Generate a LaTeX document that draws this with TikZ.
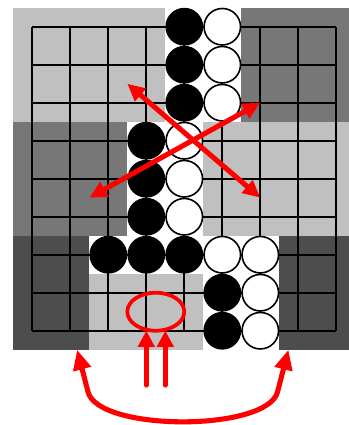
\documentclass[tikz,border=0pt]{standalone}
\usetikzlibrary{arrows.meta,calc}
\definecolor{zonelight}{HTML}{C0C0C0}
\definecolor{zonemid}{HTML}{777777}
\definecolor{zonedark}{HTML}{4D4D4D}

\begin{document}
\begin{tikzpicture}[
  blackstone/.style={circle, fill=black, draw=black, line width=1pt,
                     minimum size=0.96cm, inner sep=0pt},
  whitestone/.style={circle, fill=white, draw=black, line width=1.2pt,
                     minimum size=0.96cm, inner sep=0pt},
  gridline/.style={line width=1.3pt, black},
  redarrow/.style={draw=red, line width=3.8pt, line cap=round,
                   -{Triangle[length=12pt,width=12pt]}},
  redboth/.style={draw=red, line width=3.8pt,
                  {Triangle[length=13pt,width=12pt]}-{Triangle[length=13pt,width=12pt]}},
  redhook/.style={draw=red, line width=3.8pt,
                  {Triangle[length=15pt,width=13pt]}-{Triangle[length=15pt,width=13pt]}}
]
% page frame
\useasboundingbox (-0.85,-10.481) rectangle (8.308,0.703);
\fill[white] (-0.85,-10.481) rectangle (8.308,0.703);

% zones round the groups
\fill[zonelight] (-0.5,0.5)  rectangle (3.5,-2.5);
\fill[zonemid]   (5.5,0.5)   rectangle (8.5,-2.5);
\fill[zonemid]   (-0.5,-2.5) rectangle (2.5,-5.5);
\fill[zonelight] (4.5,-2.5)  rectangle (8.5,-5.5);
\fill[zonedark]  (-0.5,-5.5) rectangle (1.5,-8.5);
\fill[zonelight] (1.5,-6.5)  rectangle (4.5,-8.5);
\fill[zonedark]  (6.5,-5.5)  rectangle (8.5,-8.5);

% board
\draw[gridline] (0,0) grid (8,-8);

% stones
\foreach \i/\j in {4/0,4/1,4/2,3/3,3/4,3/5,2/6,3/6,4/6,5/7,5/8}
  \node[blackstone] (b-\i-\j) at (\i,-\j) {};
\foreach \i/\j in {5/0,5/1,5/2,4/3,4/4,4/5,5/6,6/6,6/7,6/8}
  \node[whitestone] (w-\i-\j) at (\i,-\j) {};

% marks
\coordinate (tl) at (2.5,-1.5);
\coordinate (br) at (6,-4.5);
\coordinate (tr) at (6,-2);
\coordinate (bl) at (1.5,-4.5);
\draw[redboth] (tl) -- (br);
\draw[redboth] (bl) -- (tr);

\coordinate (eye) at (3.25,-7.5);
\draw[red, line width=2.8pt] (eye) ellipse [x radius=0.75, y radius=0.5];

\coordinate (up1) at (3,-8);
\coordinate (up2) at (3.5,-8);
\draw[redarrow] (3,-9.43) -- (up1);
\draw[redarrow] (3.5,-9.43) -- (up2);

\coordinate (leftzone) at (1.18,-8.5);
\coordinate (rightzone) at (6.74,-8.5);
\coordinate (legl) at (1.466,-9.61);
\coordinate (legr) at (6.454,-9.61);
\draw[redhook] (leftzone) -- (legl)
  .. controls (1.74,-10.66) and (6.18,-10.66) .. (legr) -- (rightzone);
\end{tikzpicture}
\end{document}
